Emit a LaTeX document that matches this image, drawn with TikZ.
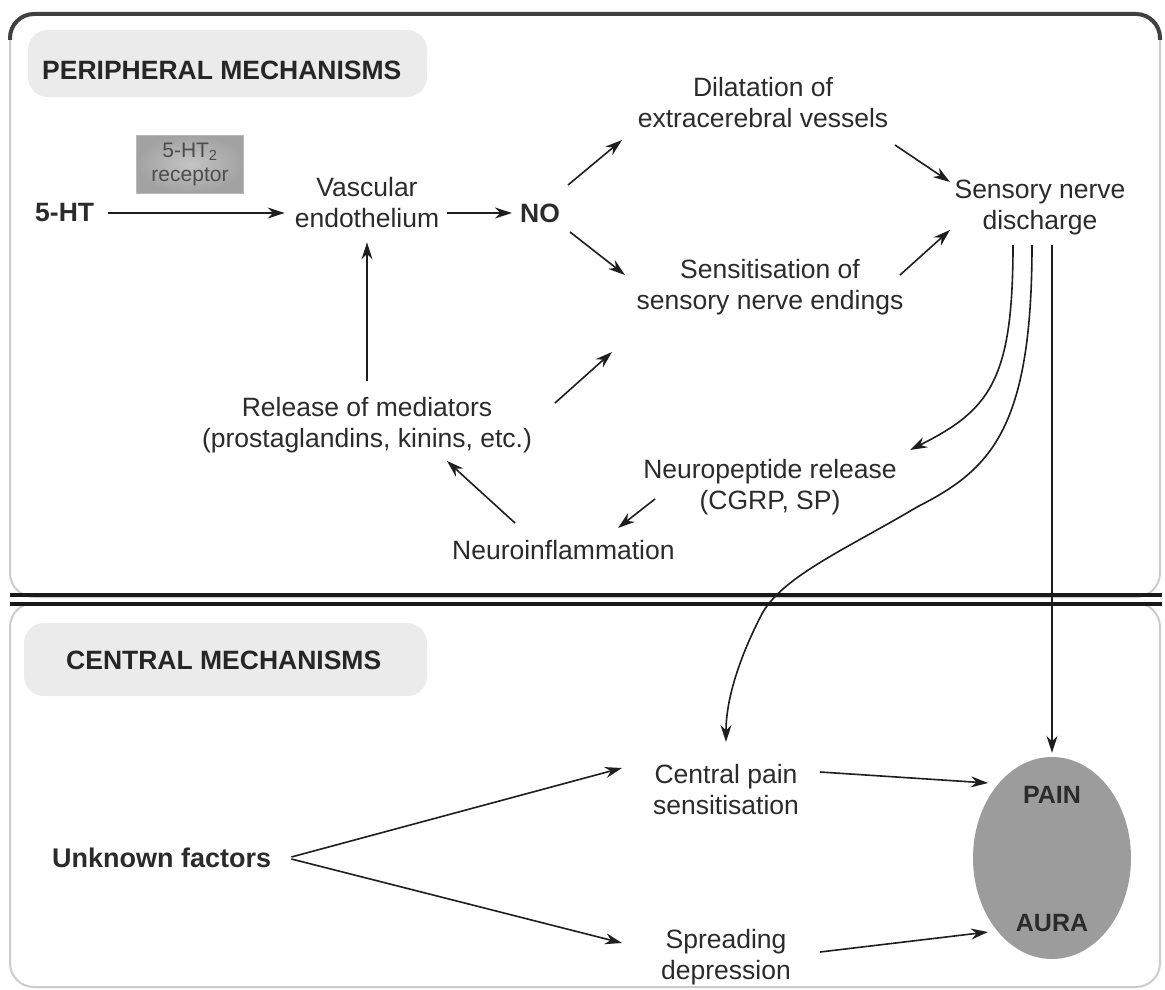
\documentclass[tikz,border=0pt]{standalone}
\usepackage{fontspec}
\setmainfont{Liberation Sans}
\usetikzlibrary{arrows.meta,calc,shapes.geometric}
\definecolor{txt}{HTML}{2B2B2B}
\definecolor{ln}{HTML}{1E1E1E}
\definecolor{hdr}{HTML}{EBEBEB}
\definecolor{ell}{HTML}{9C9C9C}
\definecolor{recin}{HTML}{C4C4C4}
\definecolor{recout}{HTML}{A2A2A2}
\begin{document}
\begin{tikzpicture}[x=1pt,y=-1pt,
  lbl/.style={align=center,inner sep=0pt,text=txt,font=\fontsize{26.5}{31}\selectfont},
  boldlbl/.style={inner sep=0pt,text=txt,font=\fontsize{26.5}{31}\selectfont\bfseries},
  hdrbox/.style={fill=hdr,rounded corners=20pt},
  hdrtxt/.style={inner sep=0pt,anchor=west,text=black!85,font=\fontsize{26.5}{30}\selectfont\bfseries},
  arr/.style={draw=ln,line width=1.6pt,-{Stealth[length=17pt,width=11pt]}},
  panel/.style={draw=gray!40,line width=2pt,rounded corners=24pt,fill=white}]
\useasboundingbox (0,0) rectangle (1165,990);
\fill[white] (0,0) rectangle (1165,990);
% panels
\draw[panel] (10,14) rectangle (1160,597);
\draw[panel] (10,603) rectangle (1160,987);
\draw[black!75,line width=4pt,rounded corners=24pt] (10,40) -- (10,14) -- (1160,14) -- (1160,40);
\draw[black!90,line width=3.5pt] (10,595) -- (1162,595);
\draw[black!90,line width=3.5pt] (10,604) -- (1162,604);
% headers
\path[hdrbox] (28,30) rectangle (427,97);
\node[hdrtxt] (phdr) at (42,70) {PERIPHERAL MECHANISMS};
\path[hdrbox] (24,623) rectangle (427,696);
\node[hdrtxt] (chdr) at (66,660) {CENTRAL MECHANISMS};
% nodes
\node[boldlbl,anchor=west] (ht) at (35,213) {5-HT};
\node[draw=gray!55,inner color=recin,outer color=recout,minimum width=107,minimum height=58,align=center,inner sep=0pt,
      text=black!70,font=\fontsize{21}{24}\selectfont] (rec) at (190,164) {5-HT\textsubscript{2}\\receptor};
\node[lbl] (vasc) at (367,203) {Vascular\\endothelium};
\node[boldlbl] (no) at (540,213) {NO};
\node[lbl] (dil) at (763,103) {Dilatation of\\extracerebral vessels};
\node[lbl] (sens) at (1040,207) {Sensory nerve\\discharge};
\node[lbl] (sensit) at (770,287) {Sensitisation of\\sensory nerve endings};
\node[lbl] (rel) at (367,425) {Release of mediators\\(prostaglandins, kinins, etc.)};
\node[lbl] (np) at (770,487) {Neuropeptide release\\(CGRP, SP)};
\node[lbl,anchor=west] (ni) at (452,550) {Neuroinflammation};
\node[boldlbl,font=\fontsize{27}{31}\selectfont\bfseries,anchor=west] (unk) at (52,858) {Unknown factors};
\node[lbl] (cen) at (726,790) {Central pain\\sensitisation};
\node[lbl] (spr) at (726,957) {Spreading\\depression};
\node[ellipse,fill=ell,minimum width=158,minimum height=202,inner sep=0pt] (out) at (1052,858) {};
\node[boldlbl,font=\fontsize{25}{28}\selectfont\bfseries] (pain) at (1052,795) {PAIN};
\node[boldlbl,font=\fontsize{25}{28}\selectfont\bfseries] (aura) at (1052,923) {AURA};
% connectors
\draw[arr,shorten <=14pt,shorten >=10pt] (ht.east) -- (ht.east -| vasc.west);
\draw[arr,shorten <=8pt,shorten >=8pt] (vasc.east |- no.west) -- (no.west);
\draw[arr] ($(no)+(28,-28)$) -- ($(dil)+(-141,37)$);
\draw[arr] ($(dil)+(132,42)$) -- ($(sens)+(-90,-25)$);
\draw[arr] ($(no)+(30,19)$) -- ($(sensit)+(-145,-12)$);
\draw[arr] ($(sensit)+(130,-12)$) -- ($(sens)+(-90,23)$);
\draw[arr,shorten <=16pt,shorten >=14pt] (rel.north) -- (vasc.south);
\draw[arr] ($(rel)+(188,-22)$) -- ($(sensit)+(-158,65)$);
\draw[arr] ($(np)+(-115,12)$) -- ($(ni.west)+(166,-22)$);
\draw[arr] ($(ni.west)+(63,-27)$) -- ($(rel)+(80,36)$);
\draw[arr] ($(sens)+(-27,38)$) .. controls ($(sens)+(-27,173)$) and ($(sens)+(-50,203)$) .. ($(np)+(140,-37)$);
\draw[arr] ($(sens)+(-8,38)$) .. controls ($(sens)+(-8,223)$) and ($(sens)+(-50,263)$) .. ($(sens)+(-123,300)$)
   .. controls ($(sens)+(-190,340)$) and ($(sens)+(-255,368)$) .. ($(sens)+(-277,405)$)
   .. controls ($(cen)+(22,-150)$) and ($(cen)+(0,-100)$) .. ($(cen)+(0,-48)$);
\draw[arr,shorten >=4pt] ($(sens)+(12,38)$) -- (out.north);
\draw[arr] ($(unk.east)+(20,-1)$) -- ($(cen)+(-104,-22)$);
\draw[arr] ($(unk.east)+(20,1)$) -- ($(spr)+(-104,-14)$);
\draw[arr] ($(cen)+(94,-18)$) -- ($(out)+(-64,-75)$);
\draw[arr] ($(spr)+(94,-5)$) -- ($(out)+(-64,74)$);
\end{tikzpicture}
\end{document}
